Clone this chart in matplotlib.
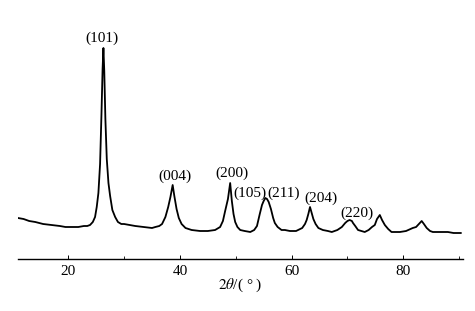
import matplotlib
matplotlib.use("Agg")
import matplotlib.pyplot as plt
from matplotlib.ticker import MultipleLocator

plt.rcParams['font.family'] = ['Liberation Serif', 'DejaVu Serif']
plt.rcParams['mathtext.fontset'] = 'stix'

two_theta = [11.0, 12.0, 13.0, 14.1, 15.5, 17.0, 18.5, 19.5, 20.5, 21.8, 22.8, 23.4,
             23.9, 24.4, 24.8, 25.1, 25.4, 25.7, 25.95, 26.15, 26.3, 26.45, 26.65, 26.9,
             27.2, 27.5, 27.9, 28.4, 28.9, 29.5, 30.0, 31.0, 32.0, 33.5, 35.0, 35.6,
             36.3, 36.8, 37.4, 37.9, 38.3, 38.7, 39.0, 39.4, 39.8, 40.3, 41.0, 42.1,
             43.6, 45.0, 46.3, 47.2, 47.7, 48.1, 48.6, 49.0, 49.3, 49.6, 49.9, 50.3,
             50.8, 51.6, 52.6, 53.3, 53.8, 54.3, 54.7, 55.0, 55.3, 55.6, 55.9, 56.3,
             56.7, 57.0, 57.5, 58.2, 58.8, 59.7, 60.8, 61.9, 62.4, 62.7, 63.0, 63.3,
             63.6, 63.9, 64.3, 64.8, 65.6, 66.5, 67.2, 68.2, 69.0, 69.6, 70.0, 70.4,
             70.8, 71.0, 71.4, 71.9, 72.5, 73.1, 73.8, 74.4, 74.9, 75.3, 75.8, 76.2,
             76.7, 77.3, 77.9, 78.6, 79.4, 80.5, 81.7, 82.3, 82.8, 83.3, 83.7, 84.2,
             84.8, 85.3, 86.5, 88.0, 89.0, 90.3]
intensity = [41, 40, 38, 37, 35, 34, 33, 32, 32, 32, 33, 33,
             34, 37, 42, 52, 66, 95, 145, 190, 211, 188, 140, 100,
             76, 63, 49, 42, 37, 35, 35, 34, 33, 32, 31, 32,
             33, 35, 42, 52, 62, 74, 63, 50, 41, 35, 31, 29,
             28, 28, 29, 32, 38, 48, 60, 76, 58, 45, 37, 32,
             29, 28, 27, 29, 33, 45, 54, 58, 61, 60, 57, 50,
             41, 36, 32, 29, 29, 28, 28, 31, 35, 39, 45, 52,
             46, 40, 35, 31, 29, 28, 27, 29, 32, 36, 38, 39,
             38, 36, 33, 29, 28, 27, 29, 32, 34, 40, 44, 39,
             34, 30, 27, 27, 27, 28, 31, 32, 35, 38, 35, 31,
             28, 27, 27, 27, 26, 26]

peak_labels = ['(101)', '(004)', '(200)', '(105)', '(211)', '(204)', '(220)']
label_x = [26.1, 39.1, 49.3, 52.6, 58.5, 65.3, 71.7]
label_y = [221, 83, 86, 66, 66, 61, 46]

fig = plt.figure(figsize=(4.75, 3.11), dpi=100)
ax = fig.add_axes([18/475, 52/311, 445/475, 229/311])
ax.plot(two_theta, intensity, color='black', lw=1.3, solid_joinstyle='round')

for t, x, y in zip(peak_labels, label_x, label_y):
    ax.text(x, y, t, ha='center', va='center', fontsize=11)

ax.set_xlim(11.0, 90.7)
ax.set_ylim(0, 229)
for s in ['left', 'right', 'top']:
    ax.spines[s].set_visible(False)
ax.spines['bottom'].set_linewidth(1.0)
ax.set_yticks([])
ax.xaxis.set_major_locator(MultipleLocator(20))
ax.xaxis.set_minor_locator(MultipleLocator(10))
ax.tick_params(axis='x', which='major', direction='in', length=3, width=0.7,
               labelsize=11, pad=4)
ax.tick_params(axis='x', which='minor', direction='in', length=2, width=0.6)
ax.set_xlabel(r'$2\theta$/( ° )', fontsize=11, labelpad=-1)

fig.savefig('out.png', dpi=100)
